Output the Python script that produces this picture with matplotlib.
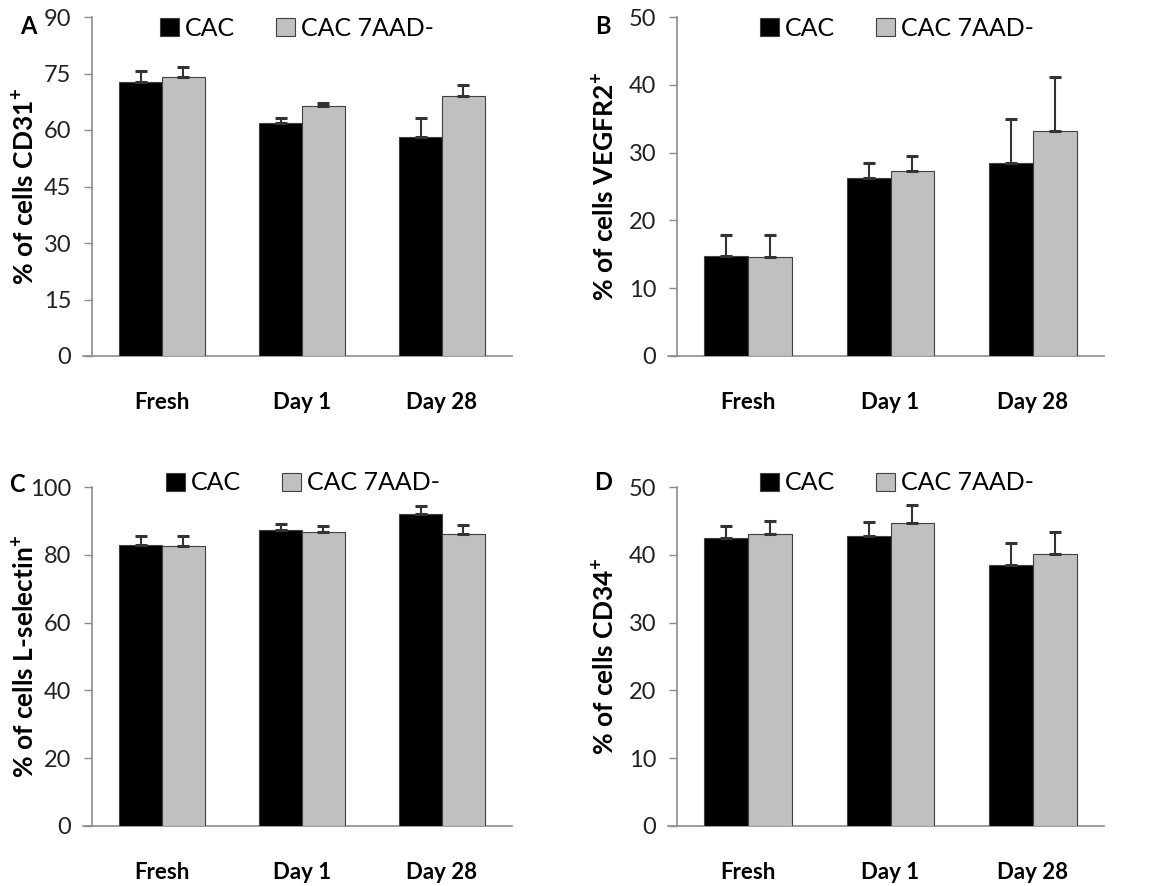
import matplotlib
matplotlib.use("Agg")
import matplotlib.pyplot as plt
from matplotlib.patches import Patch
import numpy as np

plt.rcParams['font.family'] = ['Lato', 'DejaVu Sans']
plt.rcParams['mathtext.fontset'] = 'custom'
plt.rcParams['mathtext.rm'] = 'Lato'
plt.rcParams['mathtext.bf'] = 'Lato:bold'

categories = ["Fresh", "Day 1", "Day 28"]
series_names = ["CAC", "CAC 7AAD-"]

# Panel A: CD31+
a_cac = [72.7, 61.9, 58.1]
a_cac_err = [2.9, 1.2, 5.0]
a_7aad = [74.1, 66.3, 68.9]
a_7aad_err = [2.5, 0.9, 3.0]

# Panel B: VEGFR2+
b_cac = [14.8, 26.2, 28.5]
b_cac_err = [3.0, 2.2, 6.4]
b_7aad = [14.6, 27.3, 33.2]
b_7aad_err = [3.2, 2.2, 8.0]

# Panel C: L-selectin+
c_cac = [83.0, 87.2, 92.1]
c_cac_err = [2.5, 1.9, 2.2]
c_7aad = [82.7, 86.8, 86.0]
c_7aad_err = [2.8, 1.8, 2.9]

# Panel D: CD34+
d_cac = [42.5, 42.7, 38.5]
d_cac_err = [1.8, 2.2, 3.3]
d_7aad = [43.0, 44.7, 40.1]
d_7aad_err = [2.0, 2.6, 3.3]

panels = [
    ("A", r"% of cells CD31$^{\mathbf{+}}$", a_cac, a_cac_err, a_7aad, a_7aad_err, 90, 15),
    ("B", r"% of cells VEGFR2$^{\mathbf{+}}$", b_cac, b_cac_err, b_7aad, b_7aad_err, 50, 10),
    ("C", r"% of cells L-selectin$^{\mathbf{+}}$", c_cac, c_cac_err, c_7aad, c_7aad_err, 100, 20),
    ("D", r"% of cells CD34$^{\mathbf{+}}$", d_cac, d_cac_err, d_7aad, d_7aad_err, 50, 10),
]

W, H = 1151, 886
fig = plt.figure(figsize=(W / 100, H / 100), dpi=100)

# axes boxes in pixels: left, right, top, bottom
boxes = [(92, 512, 17, 356), (677, 1104, 17, 356),
         (92, 512, 487, 826), (677, 1104, 487, 826)]
letter_pos = [(28, 27), (603, 27), (17, 484), (603, 482)]
legend_pos = [(160, 28), (760, 28), (166, 483), (760, 483)]
ylabel_x = [38, 618, 38, 618]

grey = "#c0c0c0"
axis_col = "#8c8c8c"
bw = 0.307
x = np.arange(len(categories))

for i, (letter, ylabel, s1, e1, s2, e2, ymax, step) in enumerate(panels):
    l, r, t, b = boxes[i]
    ax = fig.add_axes([l / W, (H - b) / H, (r - l) / W, (b - t) / H])
    ax.bar(x - bw / 2, s1, bw, color="black", edgecolor="#404040", linewidth=0.8, zorder=2)
    ax.bar(x + bw / 2, s2, bw, color=grey, edgecolor="#404040", linewidth=0.8, zorder=2)
    ax.errorbar(x - bw / 2, s1, yerr=[np.zeros(3), e1], fmt="none", ecolor="#333333",
                elinewidth=1.5, capsize=4, capthick=2.2, zorder=3)
    ax.errorbar(x + bw / 2, s2, yerr=[np.zeros(3), e2], fmt="none", ecolor="#333333",
                elinewidth=1.5, capsize=4, capthick=2.2, zorder=3)
    ax.set_xlim(-0.5, 2.5)
    ax.set_ylim(0, ymax)
    ax.set_yticks(np.arange(0, ymax + 0.1, step))
    ax.set_xticks(x)
    ax.set_xticklabels(categories, fontsize=16, fontweight="bold")
    ax.tick_params(axis="x", length=0, pad=26)
    ax.tick_params(axis="y", length=6, width=1, color=axis_col, labelsize=17, pad=9,
                   labelcolor="#222222")
    for sp in ["top", "right"]:
        ax.spines[sp].set_visible(False)
    for sp in ["left", "bottom"]:
        ax.spines[sp].set_color(axis_col)
        ax.spines[sp].set_linewidth(1.2)
    ax.spines["bottom"].set_bounds(-0.5 - 9 / 140, 2.5)
    ax.spines["bottom"].set_zorder(1)
    ax.set_ylabel(ylabel, fontsize=19, fontweight="bold")
    ax.yaxis.set_label_coords((ylabel_x[i] - l) / (r - l), 0.5)

    lx, ly = letter_pos[i]
    fig.text(lx / W, (H - ly) / H, letter, fontsize=17, fontweight="bold",
             ha="center", va="center")

    handles = [Patch(facecolor="black", edgecolor="#404040", linewidth=0.8),
               Patch(facecolor=grey, edgecolor="#404040", linewidth=0.8)]
    gx, gy = legend_pos[i]
    fig.legend(handles, series_names, loc="center left",
               bbox_to_anchor=(gx / W, (H - gy) / H), ncol=2, frameon=False,
               fontsize=18, handlelength=0.75, handleheight=0.75, handletextpad=0.25,
               columnspacing=1.65, borderpad=0, borderaxespad=0)

fig.savefig("out.png", dpi=100, facecolor="white")
